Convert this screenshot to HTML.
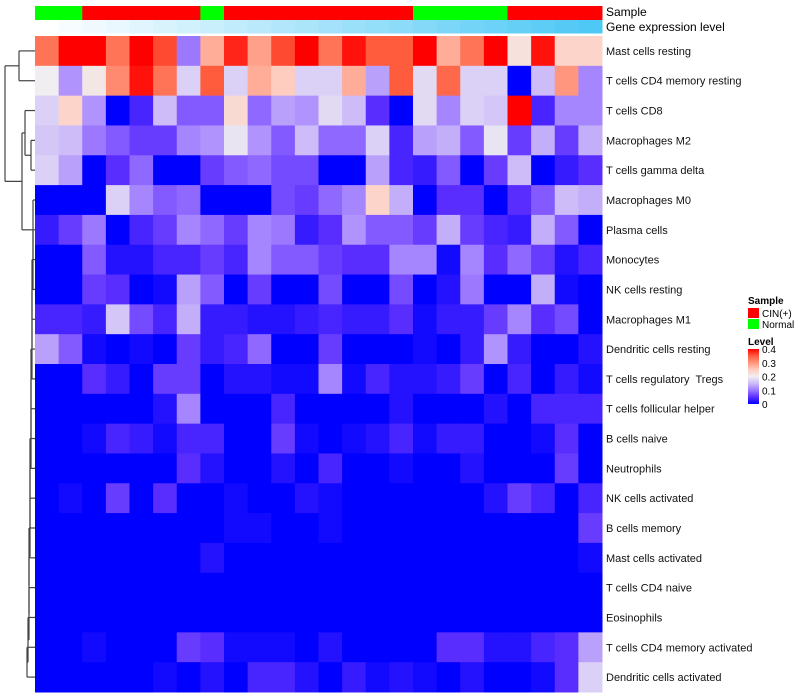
<!DOCTYPE html>
<html><head><meta charset="utf-8"><style>
body{margin:0;background:#fff;}
svg{display:block;font-family:"Liberation Sans",sans-serif;}
#labels text{white-space:pre;}
</style></head><body>
<svg id="chart" width="800" height="700" viewBox="0 0 800 700" xmlns="http://www.w3.org/2000/svg">
<g id="dendro" stroke="#444" stroke-width="1.2" fill="none"></g>
<g id="cells"></g>
<g id="annot"></g>
<g id="labels" font-size="11" fill="#111"></g>
<text x="606" y="16" font-size="12">Sample</text>
<text x="606" y="31" font-size="12">Gene expression level</text>
<g font-size="10">
<text x="748" y="304" font-weight="bold">Sample</text>
<rect x="748" y="308" width="11" height="10" fill="#ff0000"/>
<text x="762" y="317">CIN(+)</text>
<rect x="748" y="319" width="11" height="10" fill="#00ff00"/>
<text x="762" y="328">Normal</text>
<text x="748" y="345" font-weight="bold">Level</text>
<rect id="cbar" x="748" y="349" width="11" height="55"/>
<g id="cticks"></g>
</g>
</svg>
<script>
const rowNames=["Mast cells resting","T cells CD4 memory resting","T cells CD8","Macrophages M2","T cells gamma delta","Macrophages M0","Plasma cells","Monocytes","NK cells resting","Macrophages M1","Dendritic cells resting","T cells regulatory  Tregs","T cells follicular helper","B cells naive","Neutrophils","NK cells activated","B cells memory","Mast cells activated","T cells CD4 naive","Eosinophils","T cells CD4 memory activated","Dendritic cells activated"];
const sampleGroup=["N","N","C","C","C","C","C","N","C","C","C","C","C","C","C","C","N","N","N","N","C","C","C","C"];
const geneLevel=[0,1,2,3,4,5,6,7,8,9,10,11,12,13,14,15,16,17,18,19,20,21,22,23];
const levelTicks=[0,0.1,0.2,0.3,0.4];
const r0=[33,40,40,33,40,36,10,28,38,29,36,40,33,39,35,35,40,28,33,40,22,39,24,24];
const r1=[20,12,21,31,39,33,17,35,17,28,25,17,17,28,13,35,18,34,17,17,0,15,30,11];
const r2=[17,24,12,0,4,15,8,8,23,9,13,12,18,15,5,0,18,11,17,16,40,4,11,11];
const r3=[16,15,10,8,6,6,11,12,19,12,8,15,9,9,17,4,13,14,8,19,6,14,6,14];
const r4=[17,13,0,5,9,0,0,6,8,9,7,7,0,0,13,4,3,8,0,6,15,0,3,5];
const r5=[0,0,0,17,11,8,9,0,0,0,7,6,9,11,24,14,0,5,5,0,5,8,15,14];
const r6=[3,6,10,0,4,6,11,9,6,11,10,3,5,12,8,8,6,14,6,4,3,14,8,0];
const r7=[0,0,8,2,2,4,4,6,4,11,8,8,6,5,5,11,11,1,11,5,9,6,2,4];
const r8=[0,0,6,5,0,1,13,8,0,6,0,0,7,0,0,7,0,2,10,0,0,14,1,0];
const r9=[4,4,3,16,7,4,14,3,3,2,2,3,4,3,3,5,1,3,3,6,11,5,7,0];
const r10=[13,8,1,0,1,0,6,3,4,9,0,0,6,0,0,0,1,0,3,12,3,0,0,2];
const r11=[0,0,5,3,0,6,6,0,2,2,1,1,11,1,4,2,2,3,6,0,4,0,3,1];
const r12=[0,0,0,0,0,2,11,0,0,0,4,0,0,0,0,2,0,0,0,2,0,4,4,4];
const r13=[0,0,1,4,3,1,4,4,0,0,6,1,0,1,2,4,1,3,3,0,0,1,5,0];
const r14=[0,0,0,0,0,0,5,2,0,0,2,0,4,0,0,1,0,0,2,0,0,0,6,0];
const r15=[0,1,0,6,0,5,0,0,1,0,0,2,1,0,0,0,0,0,0,2,6,4,0,4];
const r16=[0,0,0,0,0,0,0,0,1,1,0,0,1,0,0,0,0,0,0,0,0,0,0,6];
const r17=[0,0,0,0,0,0,0,2,0,0,0,0,0,0,0,0,0,0,0,0,0,0,0,1];
const r18=[0,0,0,0,0,0,0,0,0,0,0,0,0,0,0,0,0,0,0,0,0,0,0,0];
const r19=[0,0,0,0,0,0,0,0,0,0,0,0,0,0,0,0,0,0,0,0,0,0,0,0];
const r20=[0,0,1,0,0,0,6,5,1,1,1,0,2,0,0,0,0,5,5,2,2,4,5,13];
const r21=[0,0,0,0,0,1,0,2,0,4,4,2,0,3,1,2,1,0,2,0,0,1,5,17];
const values=[r0,r1,r2,r3,r4,r5,r6,r7,r8,r9,r10,r11,r12,r13,r14,r15,r16,r17,r18,r19,r20,r21];

const X0=35,X1=602,Y0=36,Y1=692;
const nC=24,nR=rowNames.length;
const cw=(X1-X0)/nC, rh=(Y1-Y0)/nR;
const xAt=i=>X0+i*cw, yAt=j=>Y0+j*rh;
const NS="http://www.w3.org/2000/svg";
function mk(tag,attrs,parent){const e=document.createElementNS(NS,tag);for(const k in attrs)e.setAttribute(k,attrs[k]);parent.appendChild(e);return e;}
const stops=[[0,[0,0,255]],[0.05,[90,45,255]],[0.1,[156,120,255]],[0.15,[205,188,248]],[0.2,[240,238,240]],[0.25,[255,205,192]],[0.3,[255,150,125]],[0.35,[255,92,62]],[0.4,[255,0,0]]];
function col(v){v=Math.max(0,Math.min(0.4,v));for(let i=1;i<stops.length;i++){if(v<=stops[i][0]){const a=stops[i-1],b=stops[i];const t=(v-a[0])/(b[0]-a[0]);const c=a[1].map((x,k)=>Math.round(x+(b[1][k]-x)*t));return `rgb(${c.join(',')})`;}}return 'rgb(255,0,0)';}

const cells=document.getElementById('cells');
values.forEach((row,j)=>row.forEach((v,i)=>{
  const r=mk('rect',{x:xAt(i),y:yAt(j),width:cw+0.5,height:rh+0.5,fill:col(v/100)},cells);
  
  
}));
const annot=document.getElementById('annot');
sampleGroup.forEach((g,i)=>{
  const r=mk('rect',{x:xAt(i),y:6,width:cw+0.5,height:14,fill:g==='C'?'#ff0000':'#00ff00'},annot);
  
  
});
geneLevel.forEach((g,i)=>{
  const t=g/23;
  const c=[255+(78-255)*t,255+(200-255)*t,255+(245-255)*t].map(Math.round);
  const r=mk('rect',{x:xAt(i),y:20,width:cw+0.5,height:13.5,fill:`rgb(${c.join(',')})`},annot);
  
  
});
const labels=document.getElementById('labels');
rowNames.forEach((n,j)=>{
  const t=mk('text',{x:606,y:yAt(j)+rh/2+4},labels);
  t.setAttributeNS("http://www.w3.org/XML/1998/namespace","xml:space","preserve");
  t.textContent=n;
  
  
});
const defs=mk('defs',{},document.getElementById('chart'));
const lg=mk('linearGradient',{id:'lg',x1:0,y1:1,x2:0,y2:0},defs);
stops.forEach(s=>mk('stop',{offset:s[0]/0.4,'stop-color':`rgb(${s[1].join(',')})`},lg));
document.getElementById('cbar').setAttribute('fill','url(#lg)');
const ct=document.getElementById('cticks');
levelTicks.forEach(v=>{
  const y=404-v/0.4*55;
  const t=mk('text',{x:762,y:y+4,'font-size':10},ct);
  t.textContent=v===0?'0':String(v);
  
  
});
const cy=j=>yAt(j)+rh/2;
const dg=document.getElementById('dendro');
function seg(x1,y1,x2,y2){const l=mk('line',{x1,y1,x2,y2},dg);}
function node(x,ya,yb,xa,xb){seg(x,ya,x,yb);seg(x,ya,xa,ya);seg(x,yb,xb,yb);}
node(19,cy(0),cy(1),35,35);
const a34=(cy(3)+cy(4))/2;
node(31,cy(3),cy(4),35,35);
const a24=(cy(2)+a34)/2;
node(25,cy(2),a34,35,31);
let prevY=cy(21),prevX=35;
const lowerXs=[33,33,32,32,32,31,31,31,30,30,30,29,29,29,28,27,27];
for(let j=20;j>=5;j--){const x=lowerXs[j-5];node(x,cy(j),prevY,35,prevX);prevY=(cy(j)+prevY)/2;prevX=x;}
const low=(a24+prevY)/2;
node(22,a24,prevY,25,prevX);
node(5,(cy(0)+cy(1))/2,low,19,22);
</script>
</body></html>
